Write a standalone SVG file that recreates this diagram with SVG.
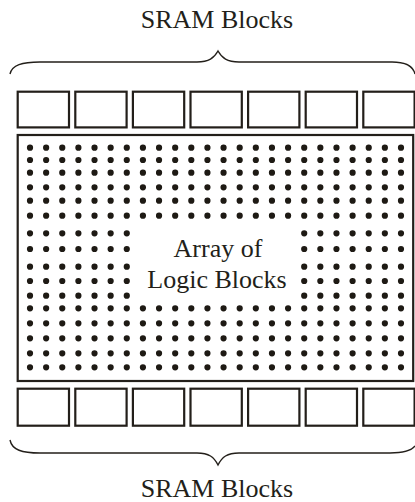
<svg xmlns="http://www.w3.org/2000/svg" width="415" height="502" viewBox="0 0 415 502">
<style>
text{font-family:'Liberation Serif','Times New Roman',serif;font-size:26px;fill:#231f1a;text-anchor:middle}
.box{fill:#fff;stroke:#231f1a;stroke-width:2.2}
.brace{fill:none;stroke:#231f1a;stroke-width:1.4}
.dots{fill:none;stroke:#1e1a14;stroke-width:6.2;stroke-linecap:round;stroke-dasharray:0.01 16.12}
</style>
<rect width="415" height="502" fill="#fff"/>
<g id="label-top"><text x="217" y="28">SRAM Blocks</text></g>
<g id="brace-top"><path class="brace" d="M10,74 C12,65 22,62 40,62 L197,62 C209,62 214,58 218,51 C222,58 227,62 239,62 L392,62 C406,62 413,66 415,74"/></g>
<g id="sram-top">
<rect class="box" x="17.7" y="91.7" width="51.3" height="35.7"/>
<rect class="box" x="75.3" y="91.7" width="51.3" height="35.7"/>
<rect class="box" x="132.9" y="91.7" width="51.3" height="35.7"/>
<rect class="box" x="190.5" y="91.7" width="51.3" height="35.7"/>
<rect class="box" x="248.1" y="91.7" width="51.3" height="35.7"/>
<rect class="box" x="305.7" y="91.7" width="51.3" height="35.7"/>
<rect class="box" x="363.3" y="91.7" width="51.3" height="35.7"/>
</g>
<g id="logic-array">
<rect class="box" x="17.7" y="135" width="395.5" height="246"/>
<path class="dots" d="M30,147.7H401.5M30,160H401.5M30,172.7H401.5M30,187.3H401.5M30,200.7H401.5M30,215.7H401.5M30,233.3H127.3M304.2,233.3H401.5M30,249H127.3M304.2,249H401.5M30,266.7H127.3M304.2,266.7H401.5M30,281H127.3M304.2,281H401.5M30,295.7H127.3M304.2,295.7H401.5M30,308.3H401.5M30,323.3H401.5M30,338.3H401.5M30,353.3H401.5M30,367.3H401.5"/>
<text x="218" y="257">Array of</text>
<text x="217" y="288">Logic Blocks</text>
</g>
<g id="sram-bottom">
<rect class="box" x="17.7" y="388.7" width="51.3" height="37"/>
<rect class="box" x="75.3" y="388.7" width="51.3" height="37"/>
<rect class="box" x="132.9" y="388.7" width="51.3" height="37"/>
<rect class="box" x="190.5" y="388.7" width="51.3" height="37"/>
<rect class="box" x="248.1" y="388.7" width="51.3" height="37"/>
<rect class="box" x="305.7" y="388.7" width="51.3" height="37"/>
<rect class="box" x="363.3" y="388.7" width="51.3" height="37"/>
</g>
<g id="brace-bottom"><path class="brace" d="M10,440 C12,450 22,453 40,453 L197,453 C209,453 214,457 218,465 C222,457 227,453 239,453 L390,453 C405,453 412,450 415,446"/></g>
<g id="label-bottom"><text x="217" y="497">SRAM Blocks</text></g>
</svg>
